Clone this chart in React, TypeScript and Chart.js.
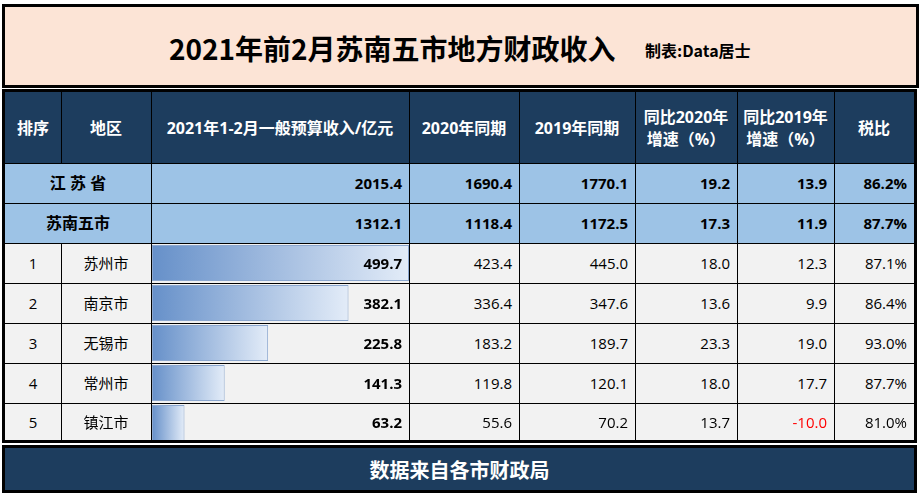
import React, { useEffect, useRef } from 'react';
import { Chart, registerables } from 'chart.js';

Chart.register(...registerables);

const title = '2021年前2月苏南五市地方财政收入';
const credit = '制表:Data居士';
const footerText = '数据来自各市财政局';
const headers = ['排序', '地区', '2021年1-2月一般预算收入/亿元', '2020年同期', '2019年同期', '同比2020年\n增速（%）', '同比2019年\n增速（%）', '税比'];

const summaryNames = ['江 苏 省', '苏南五市'];
const summary2021 = [2015.4, 1312.1];
const summary2020 = [1690.4, 1118.4];
const summary2019 = [1770.1, 1172.5];
const summaryYoy2020 = [19.2, 17.3];
const summaryYoy2019 = [13.9, 11.9];
const summaryTax = [86.2, 87.7];

const ranks = [1, 2, 3, 4, 5];
const cities = ['苏州市', '南京市', '无锡市', '常州市', '镇江市'];
const rev2021 = [499.7, 382.1, 225.8, 141.3, 63.2];
const rev2020 = [423.4, 336.4, 183.2, 119.8, 55.6];
const rev2019 = [445.0, 347.6, 189.7, 120.1, 70.2];
const yoy2020 = [18.0, 13.6, 23.3, 18.0, 13.7];
const yoy2019 = [12.3, 9.9, 19.0, 17.7, -10.0];
const taxRatio = [87.1, 86.4, 93.0, 87.7, 81.0];

const FONT = '"Open Sans", "Noto Sans CJK SC", sans-serif';
const TITLEFONT = '"Noto Sans CJK SC", sans-serif';
const NAVY = '#1d3d5e';
const LIGHTBLUE = '#9dc3e6';
const ROWBG = '#f2f2f2';

// layout geometry
const colX = [5, 61, 151, 409, 519, 635, 737, 834, 914];
const rowY = [92, 163, 203, 243, 283, 323, 363, 403, 440];

const f1 = (v: number) => v.toFixed(1);
const pct = (v: number) => v.toFixed(1) + '%';

function BarChart() {
  const ref = useRef<HTMLCanvasElement | null>(null);
  useEffect(() => {
    if (!ref.current) return;
    const chart = new Chart(ref.current, {
      type: 'bar',
      data: {
        labels: cities,
        datasets: [
          {
            data: rev2021,
            backgroundColor: (ctx: any) => {
              const c = ctx.chart;
              if (!c.chartArea || !c.scales.x) return '#8fb0da';
              const v = ctx.raw as number;
              const x0 = c.scales.x.getPixelForValue(0);
              const x1 = c.scales.x.getPixelForValue(v);
              const g = c.ctx.createLinearGradient(x0, 0, x1, 0);
              g.addColorStop(0, '#6690c9');
              g.addColorStop(1, '#e3ecf8');
              return g;
            },
            borderColor: '#8ba7cf',
            borderWidth: 1,
            borderSkipped: false,
            barPercentage: 0.9,
            categoryPercentage: 1,
          },
        ],
      },
      options: {
        indexAxis: 'y',
        responsive: false,
        maintainAspectRatio: false,
        animation: false,
        events: [],
        layout: { padding: 0 },
        plugins: { legend: { display: false }, tooltip: { enabled: false } },
        scales: {
          x: { display: false, min: 0, max: Math.max(...rev2021) },
          y: { display: false },
        },
      },
    } as any);
    return () => chart.destroy();
  }, []);
  return (
    <canvas
      ref={ref}
      width={colX[3] - colX[2] - 1}
      height={rowY[8] - rowY[3] + 3}
      style={{ position: 'absolute', left: colX[2] + 1, top: rowY[3], width: colX[3] - colX[2] - 1, height: rowY[8] - rowY[3] + 3 }}
    />
  );
}

export default function App() {
  const els: React.ReactNode[] = [];
  let k = 0;
  const box = (x0: number, y0: number, x1: number, y1: number, bg: string) => {
    els.push(<div key={k++} style={{ position: 'absolute', left: x0, top: y0, width: x1 - x0, height: y1 - y0, background: bg }} />);
  };
  const text = (
    x0: number, y0: number, x1: number, y1: number, t: string,
    o: { align?: string; bold?: boolean; color?: string; size?: number; z?: number } = {}
  ) => {
    const align = o.align || 'center';
    els.push(
      <div
        key={k++}
        style={{
          position: 'absolute', left: x0, top: y0, width: x1 - x0, height: y1 - y0,
          display: 'flex', alignItems: 'center',
          justifyContent: align === 'right' ? 'flex-end' : 'center',
          textAlign: align as any,
          paddingRight: align === 'right' ? 7 : 0, boxSizing: 'border-box',
          fontFamily: FONT, fontSize: o.size || 15, fontWeight: o.bold ? 700 : 400,
          color: o.color || '#000', whiteSpace: 'pre', lineHeight: '22px', zIndex: o.z || 3,
        }}
      >
        {t}
      </div>
    );
  };

  // backgrounds
  box(colX[0], rowY[0], colX[8], rowY[1], NAVY);
  box(colX[0], rowY[1], colX[8], rowY[3], LIGHTBLUE);
  box(colX[0], rowY[3], colX[8], rowY[8], ROWBG);

  // header texts
  headers.forEach((h, i) => text(colX[i], rowY[0], colX[i + 1], rowY[1], h, { bold: true, color: '#ffffff', size: 16 }));

  // summary rows
  summaryNames.forEach((n, r) => {
    const y0 = rowY[1 + r], y1 = rowY[2 + r];
    text(colX[0], y0, colX[2], y1, n, { bold: true, size: 16 });
    text(colX[2], y0, colX[3], y1, f1(summary2021[r]), { bold: true, align: 'right' });
    text(colX[3], y0, colX[4], y1, f1(summary2020[r]), { bold: true, align: 'right' });
    text(colX[4], y0, colX[5], y1, f1(summary2019[r]), { bold: true, align: 'right' });
    text(colX[5], y0, colX[6], y1, f1(summaryYoy2020[r]), { bold: true, align: 'right' });
    text(colX[6], y0, colX[7], y1, f1(summaryYoy2019[r]), { bold: true, align: 'right' });
    text(colX[7], y0, colX[8], y1, pct(summaryTax[r]), { bold: true, align: 'right' });
  });

  // city rows
  cities.forEach((c, r) => {
    const y0 = rowY[3 + r], y1 = rowY[4 + r];
    text(colX[0], y0, colX[1], y1, String(ranks[r]));
    text(colX[1], y0, colX[2], y1, c);
    text(colX[2], y0, colX[3], y1, f1(rev2021[r]), { bold: true, align: 'right', z: 5 });
    text(colX[3], y0, colX[4], y1, f1(rev2020[r]), { align: 'right' });
    text(colX[4], y0, colX[5], y1, f1(rev2019[r]), { align: 'right' });
    text(colX[5], y0, colX[6], y1, f1(yoy2020[r]), { align: 'right' });
    text(colX[6], y0, colX[7], y1, f1(yoy2019[r]), { align: 'right', color: yoy2019[r] < 0 ? '#ff0000' : '#000' });
    text(colX[7], y0, colX[8], y1, pct(taxRatio[r]), { align: 'right' });
  });

  // grid lines
  const lines: React.ReactNode[] = [];
  for (let i = 1; i < 8; i++) {
    lines.push(<div key={'h' + i} style={{ position: 'absolute', left: colX[0], top: rowY[i], width: colX[8] - colX[0], height: 1, background: '#000', zIndex: 4 }} />);
  }
  for (let i = 1; i < 8; i++) {
    if (i === 1) {
      lines.push(<div key={'v1a'} style={{ position: 'absolute', left: colX[1], top: rowY[0], width: 1, height: rowY[1] - rowY[0], background: '#000', zIndex: 4 }} />);
      lines.push(<div key={'v1b'} style={{ position: 'absolute', left: colX[1], top: rowY[3], width: 1, height: rowY[8] - rowY[3], background: '#000', zIndex: 4 }} />);
    } else {
      lines.push(<div key={'v' + i} style={{ position: 'absolute', left: colX[i], top: rowY[0], width: 1, height: rowY[8] - rowY[0], background: '#000', zIndex: 4 }} />);
    }
  }

  return (
    <div style={{ position: 'fixed', left: 0, top: 0, width: 923, height: 494, background: '#ffffff', overflow: 'hidden' }}>
      {/* title */}
      <div style={{ position: 'absolute', left: 2, top: 4, width: 917, height: 84, boxSizing: 'border-box', border: '3px solid #000', background: '#fce4d6' }}>
        <div style={{ position: 'absolute', left: 164, top: 24, fontFamily: TITLEFONT, fontSize: 28, fontWeight: 700, color: '#000', whiteSpace: 'nowrap', lineHeight: '34px' }}>{title}</div>
        <div style={{ position: 'absolute', left: 640, top: 33, fontFamily: TITLEFONT, fontSize: 16, fontWeight: 700, color: '#000', whiteSpace: 'nowrap', lineHeight: '20px' }}>{credit}</div>
      </div>
      {els}
      <BarChart />
      {lines}
      {/* table outer border */}
      <div style={{ position: 'absolute', left: 2, top: 89, width: 915, height: 354, boxSizing: 'border-box', border: '3px solid #000', zIndex: 6 }} />
      {/* footer */}
      <div style={{ position: 'absolute', left: 2, top: 445, width: 915, height: 48, boxSizing: 'border-box', border: '3px solid #000', background: NAVY, display: 'flex', alignItems: 'center', justifyContent: 'center', fontFamily: TITLEFONT, fontSize: 20, fontWeight: 700, color: '#ffffff' }}>
        {footerText}
      </div>
    </div>
  );
}
